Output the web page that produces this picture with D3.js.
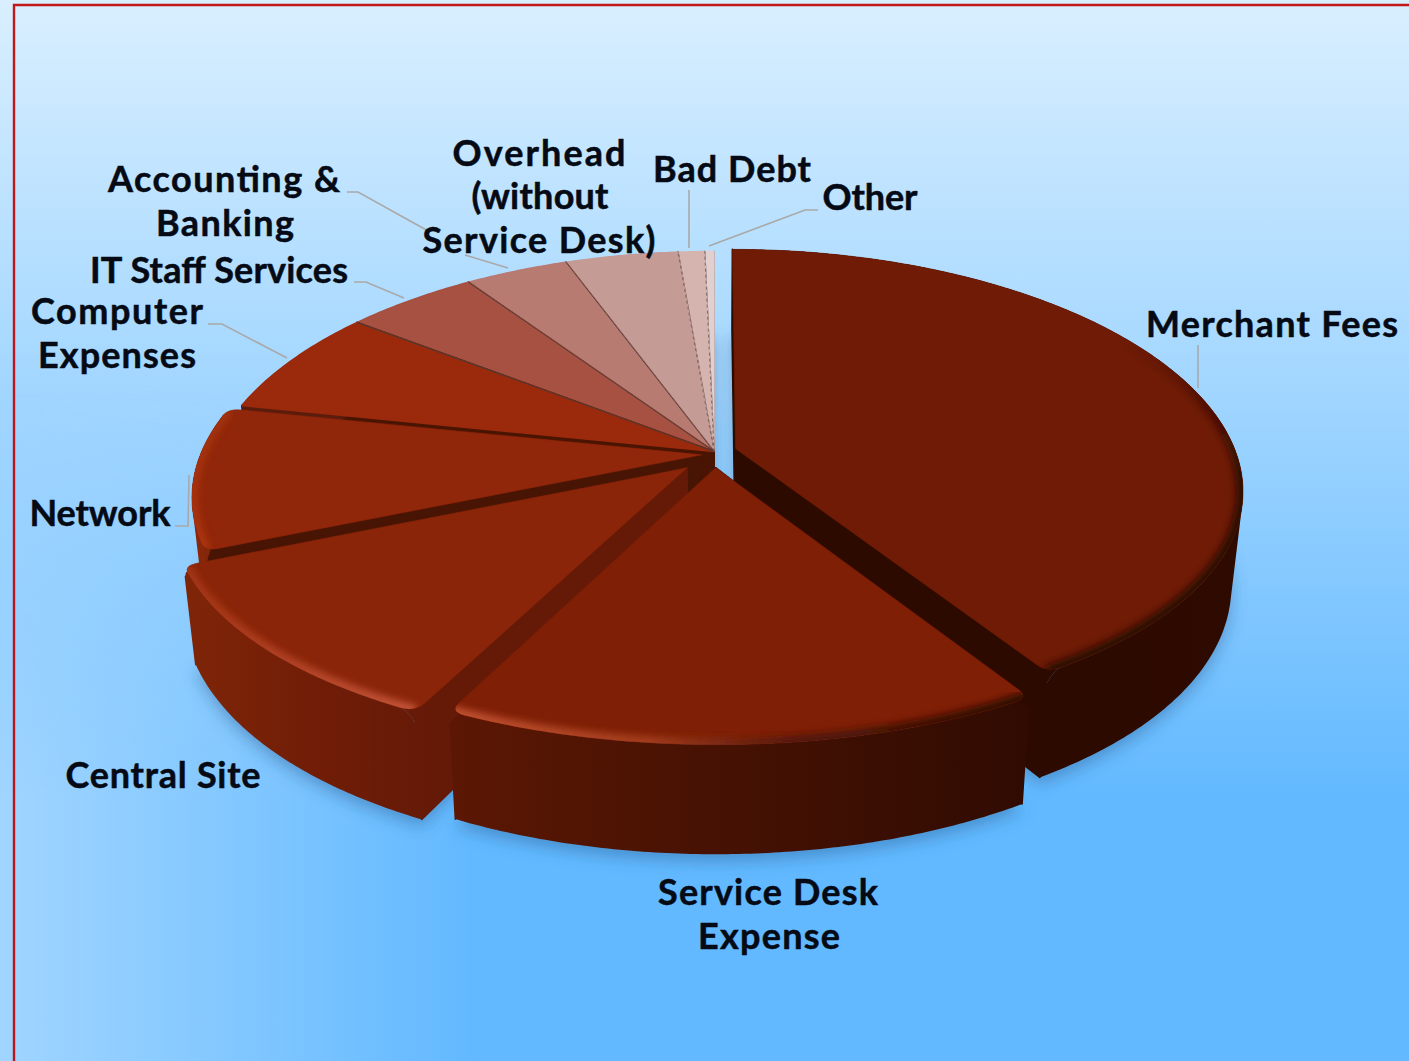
<!DOCTYPE html>
<html>
<head>
<meta charset="utf-8">
<script src="https://cdn.jsdelivr.net/npm/d3@7/dist/d3.min.js"></script>
<style>
  html, body { margin: 0; padding: 0; background: #d8eeff; overflow: hidden; }
  svg { display: block; }
  text { font-family: Lato, "Open Sans", sans-serif; font-weight: 700; fill: #050a14; stroke: #050a14; stroke-width: 0.5px; }
</style>
</head>
<body>
<svg id="chart" width="1409" height="1061"></svg>
<script>
// Cost categories and their share of the total, clockwise from twelve o'clock.
const categories = ["Merchant Fees", "Service Desk Expense", "Central Site", "Network", "Computer Expenses",
  "IT Staff Services", "Accounting & Banking", "Overhead (without Service Desk)", "Bad Debt", "Other"];
const shares = [41.2, 16.1, 11.3, 9.7, 7.2, 5.0, 3.9, 4.25, 1.0, 0.35];

// Rendering attributes for each slice, in the same order.
const topColors = ["#6f1b05", "#7f1f05", "#8a2509", "#90260a", "#9b2a0c", "#a65142", "#b87b72", "#c59b95", "#d5b4b0", "#e2cfd0"];
const pullOut = [0.045, 0.07, 0.074, 0.025, 0, 0, 0, 0, 0, 0];
const pullDown = [0, 0, 0.02, 0.012, 0, 0, 0, 0, 0, 0];
const paintOrder = [9, 8, 7, 6, 5, 4, 3, 2, 0, 1];

// Label text lines: [text, centre x, baseline y, fitted width]
const labelLines = [
  ["Merchant Fees", 1272, 337, 252], ["Service Desk", 768, 905, 220], ["Expense", 769, 949, 142],
  ["Central Site", 163, 788, 195], ["Network", 100, 526, 141], ["Computer", 117, 324, 172], ["Expenses", 117, 368, 158],
  ["IT Staff Services", 219, 283, 258], ["Accounting &", 224, 192, 232], ["Banking", 225, 236, 138],
  ["Overhead", 539, 166, 173], ["(without", 540, 209, 137], ["Service Desk)", 539, 253, 233],
  ["Bad Debt", 732, 182, 158], ["Other", 870, 210, 95]
];
const leaders = [
  [[1198, 345], [1198, 388]],
  [[818, 210], [805, 210], [709, 246]],
  [[689, 190], [689, 248]],
  [[347, 192], [358, 192], [430, 232]],
  [[465, 255], [508, 268]],
  [[354, 282], [366, 282], [404, 298]],
  [[208, 324], [222, 324], [287, 358]],
  [[175, 526], [188, 526], [189, 475]]
];

const W = 1409, H = 1061;
const svg = d3.select("#chart");
const defs = svg.append("defs");

function linear(id, x1, y1, x2, y2, stops) {
  const g = defs.append("linearGradient").attr("id", id).attr("gradientUnits", "userSpaceOnUse")
    .attr("x1", x1).attr("y1", y1).attr("x2", x2).attr("y2", y2);
  stops.forEach(s => g.append("stop").attr("offset", s[0]).attr("stop-color", s[1]).attr("stop-opacity", s[2] === undefined ? 1 : s[2]));
}

// Backdrop: light sky at the top falling to saturated blue, paler along the lower left.
linear("sky", 0, 0, 0, 800, [[0, "#d9efff"], [0.45, "#a6d8ff"], [1, "#62b9ff"]]);
linear("sideGlow", 0, 0, 480, 0, [[0, "#d4ecff", 0.55], [1, "#d4ecff", 0]]);
linear("sideMask", 0, 380, 0, 800, [[0, "#000"], [1, "#fff"]]);
defs.append("mask").attr("id", "lowerOnly").attr("maskUnits", "userSpaceOnUse")
  .attr("x", 0).attr("y", 0).attr("width", W).attr("height", H)
  .append("rect").attr("width", W).attr("height", H).attr("fill", "url(#sideMask)");
svg.append("rect").attr("width", W).attr("height", H).attr("fill", "url(#sky)");
svg.append("rect").attr("width", W).attr("height", H).attr("fill", "url(#sideGlow)").attr("mask", "url(#lowerOnly)");

// Frame
svg.append("path").attr("d", `M14,${H} V5 H${W}`).attr("fill", "none").attr("stroke", "#c00000").attr("stroke-width", 2.4).attr("stroke-opacity", 0.9);

// Perspective projection of the disc: plane coordinates (u, v), v toward the viewer, z 0 top to 1 bottom.
const cx = 714, cy = 451.5, rx = 500, ry = 230, perspX = 0.175, perspY = 0.15, thickness = 92, taper = 0.022;
function project(u, v, z) {
  const sx = 1 / (1 - perspX * v), sy = 1 / (1 - perspY * v);
  return [cx + rx * u * sx * (1 - taper * z), cy + ry * v * sy + thickness * z * sy];
}

const arcs = d3.pie().sort(null).value(d => d)(shares);
const line = d3.line();
const skip = 3, cornerDip = 0.11;

const slices = arcs.map((a, i) => {
  const mid = (a.startAngle + a.endAngle) / 2;
  const ou = pullOut[i] * Math.sin(mid), ov = -pullOut[i] * Math.cos(mid) + pullDown[i];
  const n = Math.max(2, Math.ceil((a.endAngle - a.startAngle) / 0.01));
  const rim = z => d3.range(n + 1).map(k => {
    const t = a.startAngle + (a.endAngle - a.startAngle) * k / n;
    return project(ou + Math.sin(t), ov - Math.cos(t), z);
  });
  const top = rim(0), bottom = rim(1);
  const roundStart = i > 0 && i < 4, roundEnd = i < 4;
  // Upper edge of the wall: it dips just below the top face at the softened corners.
  const shoulder = top.map((p, k) => {
    const near = roundStart && k < skip ? k : roundEnd && n - k < skip ? n - k : skip;
    const f = cornerDip * Math.pow(1 - near / skip, 2);
    return [p[0] + (bottom[k][0] - p[0]) * f, p[1] + (bottom[k][1] - p[1]) * f];
  });
  return { i, top, bottom, shoulder, roundStart, roundEnd, apexTop: project(ou, ov, 0), apexBottom: project(ou, ov, 1) };
});

// Soft ground shadow cast by the underside of every slice.
defs.append("filter").attr("id", "groundBlur").attr("x", "-20%").attr("y", "-20%").attr("width", "140%").attr("height", "140%")
  .append("feGaussianBlur").attr("stdDeviation", 8);
defs.append("filter").attr("id", "rimBlur").attr("x", "-10%").attr("y", "-10%").attr("width", "120%").attr("height", "120%")
  .append("feGaussianBlur").attr("stdDeviation", 3.5);

svg.append("g").attr("filter", "url(#groundBlur)").attr("transform", "translate(0,7)")
  .selectAll("path").data(slices).join("path")
  .attr("d", d => line([d.apexBottom, ...d.bottom]) + "Z")
  .attr("fill", "#27598c").attr("fill-opacity", 0.42);

// Shading of the outer walls and the cut faces.
linear("wall0", 900, 0, 1250, 0, [[0, "#2c0a00"], [1, "#2e0a00"]]);
linear("wall1", 450, 0, 1020, 0, [[0, "#5c1704"], [0.45, "#471203"], [1, "#310b02"]]);
linear("wall2", 195, 0, 430, 0, [[0, "#7e2508"], [0.5, "#711d07"], [1, "#651a07"]]);
linear("wall3", 190, 0, 215, 0, [[0, "#8f2b0b"], [1, "#7e2408"]]);
const wallFill = i => i < 4 ? `url(#wall${i})` : "#5c1c0c";
const faceFill = ["url(#wall0)", "url(#wall1)", "url(#wall2)", "#481403", "#4a1403", "#5a2417", "#5a2e26", "#5a3a35", "#50403e", "#50403e"];

// Bevel along the rim of the four large slices.
linear("rim0", 0, 340, 0, 480, [[0, "#2c0a00", 0], [1, "#2c0a00", 1]]);
linear("rim1", 450, 0, 1020, 0, [[0, "#c05030"], [0.35, "#a23c1c"], [0.6, "#54170a"], [1, "#2c0a00"]]);
linear("rim2", 195, 0, 420, 0, [[0, "#a33414"], [1, "#c4553a"]]);
linear("rim3", 0, 405, 0, 560, [[0, "#a23011"], [1, "#ab3411"]]);

// Top outline with softened outer corners on the large slices.
function toward(p, q, d) {
  const L = Math.hypot(q[0] - p[0], q[1] - p[1]);
  return [p[0] + (q[0] - p[0]) * d / L, p[1] + (q[1] - p[1]) * d / L];
}
function topOutline(s) {
  const pts = s.top, last = pts.length - 1, r = 13;
  const body = pts.slice(s.roundStart ? skip : 0, s.roundEnd ? last - skip + 1 : last + 1);
  let d = `M${s.apexTop}`;
  if (s.roundStart) {
    const a = toward(pts[0], s.apexTop, r);
    d += `L${a}Q${pts[0]} ${body[0]}`;
  }
  d += body.map(p => `L${p}`).join("");
  if (s.roundEnd) {
    const b = toward(pts[last], s.apexTop, r);
    d += `Q${pts[last]} ${b}`;
  }
  return d + "Z";
}

// One wall path from same-wound strips, so the steps leave no seams and the silhouette follows the extrusion.
function wallPath(s) {
  let d = "";
  d3.range(s.top.length - 1).forEach(k => {
    let quad = [s.shoulder[k], s.shoulder[k + 1], s.bottom[k + 1], s.bottom[k]];
    if (d3.polygonArea(quad) < 0) quad = quad.reverse();
    d += line(quad) + "Z";
  });
  return d;
}

const pie = svg.append("g");
paintOrder.forEach(i => {
  const s = slices[i];
  const g = pie.append("g");

  const outline = topOutline(s);
  if (i < 4) {
    // Dark backing shows through where the rounded corners cut the top away.
    g.append("path").attr("d", line([s.apexTop, ...s.shoulder]) + "Z").attr("fill", faceFill[i]);
  }

  [0, s.top.length - 1].forEach(k => {
    g.append("path").attr("fill", faceFill[i]).attr("stroke", faceFill[i]).attr("stroke-width", 1.6)
      .attr("stroke-linejoin", "round")
      .attr("d", line([s.apexTop, s.shoulder[k], s.bottom[k], s.apexBottom]) + "Z");
  });

  g.append("path").attr("fill", wallFill(i)).attr("fill-rule", "nonzero").attr("d", wallPath(s));

  g.append("path").attr("d", outline).attr("fill", topColors[i]).attr("stroke", topColors[i])
    .attr("stroke-width", i < 4 ? 0.6 : 1.5).attr("stroke-linejoin", "round");

  if (i < 4) {
    defs.append("clipPath").attr("id", `topClip${i}`).append("path").attr("d", outline);
    g.append("g").attr("clip-path", `url(#topClip${i})`)
      .append("path").attr("d", line(s.top)).attr("fill", "none")
      .attr("stroke", `url(#rim${i})`).attr("stroke-width", 13).attr("filter", "url(#rimBlur)");
  }
});

// Hairlines between the small pale slices at the back.
const hair = svg.append("g").attr("fill", "none");
[4, 5, 6, 7, 8].forEach(i => {
  const s = slices[i];
  hair.append("path").attr("d", line([s.apexTop, s.top[s.top.length - 1]]))
    .attr("stroke", i >= 7 ? "#6f6262" : "#4d3a36")
    .attr("stroke-width", i === 4 ? 1.1 : 0.9)
    .attr("stroke-dasharray", i >= 7 ? "3 3" : null);
});

// Leader lines
svg.append("g").selectAll("path").data(leaders).join("path")
  .attr("d", d => line(d)).attr("fill", "none").attr("stroke", "#a9a9a9").attr("stroke-width", 1.6);

// Labels
svg.append("g").selectAll("text").data(labelLines).join("text")
  .attr("x", d => d[1]).attr("y", d => d[2]).attr("text-anchor", "middle")
  .attr("font-size", 36).attr("textLength", d => d[3]).attr("lengthAdjust", "spacing")
  .text(d => d[0]);
</script>
</body>
</html>
